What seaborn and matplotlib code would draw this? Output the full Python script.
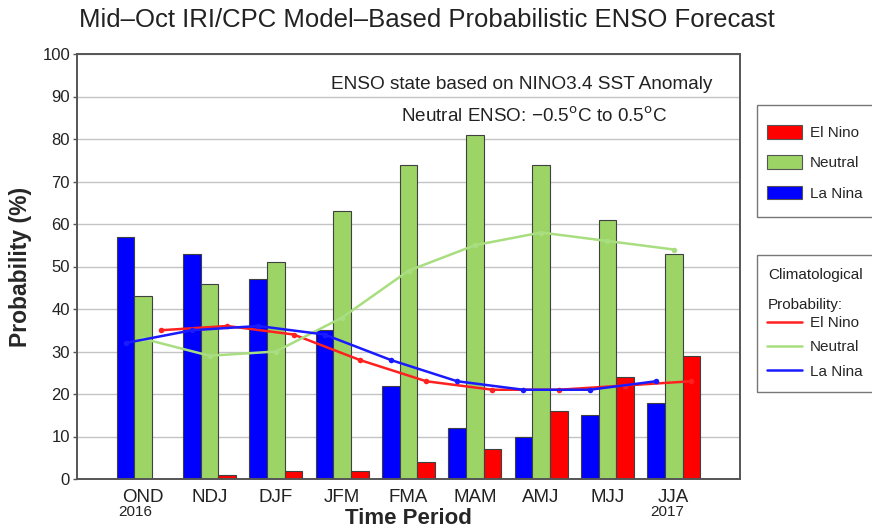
import numpy as np
import pandas as pd
import matplotlib
matplotlib.use("Agg")
import matplotlib.pyplot as plt
from matplotlib.patches import Patch, Rectangle
from matplotlib.lines import Line2D
import seaborn as sns

# season labels
periods = ["OND", "NDJ", "DJF", "JFM", "FMA", "MAM", "AMJ", "MJJ", "JJA"]

# model forecast probabilities (%)
la_nina = [57, 53, 47, 35, 22, 12, 10, 15, 18]
neutral = [43, 46, 51, 63, 74, 81, 74, 61, 53]
el_nino = [0, 1, 2, 2, 4, 7, 16, 24, 29]

# climatological probabilities (%)
clim_el_nino = [35, 36, 34, 28, 23, 21, 21, 22, 23]
clim_neutral = [33, 29, 30, 38, 49, 55, 58, 56, 54]
clim_la_nina = [32, 35, 36, 34, 28, 23, 21, 21, 23]

states = ["La Nina", "Neutral", "El Nino"]
bar_colors = {"La Nina": "#0000ff", "Neutral": "#9dd466", "El Nino": "#ff0000"}
line_colors = {"La Nina": "#1a1aff", "Neutral": "#a8de80", "El Nino": "#ff2020"}

df = pd.DataFrame({
    "period": periods * 3,
    "state": ["La Nina"] * 9 + ["Neutral"] * 9 + ["El Nino"] * 9,
    "prob": la_nina + neutral + el_nino,
})

sns.set_theme(style="white")
plt.rcParams["font.family"] = ["Liberation Sans", "DejaVu Sans"]

W, H = 872, 531
fig = plt.figure(figsize=(W / 100, H / 100), dpi=100)
ax = fig.add_axes([77 / W, 1 - 479 / H, 663 / W, 425 / H])

sns.barplot(data=df, x="period", y="prob", hue="state", hue_order=states,
            palette=bar_colors, width=0.8, edgecolor="#404040", linewidth=0.8,
            saturation=1, legend=False, ax=ax)

# climatology lines, each through its own bar position
w = 0.8 / 3
xs = np.arange(len(periods))
sns.lineplot(x=xs + w, y=clim_el_nino, color=line_colors["El Nino"], lw=1.8,
             marker="o", markersize=4, markeredgewidth=0, ax=ax)
sns.lineplot(x=xs, y=clim_neutral, color=line_colors["Neutral"], lw=1.8,
             marker="o", markersize=4, markeredgewidth=0, ax=ax)
sns.lineplot(x=xs - w, y=clim_la_nina, color=line_colors["La Nina"], lw=1.8,
             marker="o", markersize=4, markeredgewidth=0, ax=ax)

ax.set_xlim(-1, 9)
ax.set_ylim(0, 100)
ax.set_yticks(range(0, 101, 10))
ax.set_xticks(xs)
ax.set_xticklabels(periods)
ax.yaxis.grid(True, color="#c4c4c4", lw=1)
ax.set_axisbelow(True)
for s in ax.spines.values():
    s.set_color("#555555")
    s.set_linewidth(1.4)
ax.tick_params(axis="y", left=True, length=3, width=1, color="#555555",
               labelsize=12, pad=2, labelcolor="#222222")
ax.tick_params(axis="x", bottom=False, length=0, labelsize=13.5, pad=7.5,
               labelcolor="#222222")

ax.set_xlabel("Time Period", fontsize=16, fontweight="bold")
ax.set_ylabel("Probability (%)", fontsize=16.5, fontweight="bold")
ax.xaxis.set_label_coords(0.5, -0.068)
ax.yaxis.set_label_coords(-0.068, 0.5)

trans = matplotlib.transforms.blended_transform_factory(ax.transData, ax.transAxes)
ax.text(-0.12, -0.078, "2016", transform=trans, ha="center", va="center",
        fontsize=11, color="#222222")
ax.text(7.9, -0.078, "2017", transform=trans, ha="center", va="center",
        fontsize=11, color="#222222")

ax.text(5.7, 92.9, "ENSO state based on NINO3.4 SST Anomaly", ha="center",
        va="center", fontsize=13.7, color="#222222")
ax.text(5.9, 85.3, "Neutral ENSO: \u22120.5$^{\\mathrm{o}}$C to 0.5$^{\\mathrm{o}}$C",
        ha="center", va="center", fontsize=13.6, color="#222222")

fig.text(0.49, 0.962, "Mid\u2013Oct IRI/CPC Model\u2013Based Probabilistic ENSO Forecast",
         ha="center", va="center", fontsize=18.5, color="#222222")

# legend frames (they run past the right edge of the picture)
for top, bot in [(105, 217), (255, 392)]:
    fig.add_artist(Rectangle((757 / W, 1 - bot / H), 130 / W, (bot - top) / H,
                             transform=fig.transFigure, fill=False,
                             edgecolor="#777777", lw=1))

order = ["El Nino", "Neutral", "La Nina"]
h1 = [Patch(facecolor=bar_colors[k], edgecolor="#555555", lw=0.8) for k in order]
fig.legend(h1, order, loc="upper left", bbox_to_anchor=(767 / W, 1 - 125 / H),
           frameon=False, fontsize=11, handlelength=2.3, handleheight=1.0,
           labelspacing=1.0, borderpad=0, handletextpad=0.52, borderaxespad=0)

fig.text(768 / W, 1 - 275 / H, "Climatological", ha="left", va="center",
         fontsize=11, color="#222222")
fig.text(768 / W, 1 - 305 / H, "Probability:", ha="left", va="center",
         fontsize=11, color="#222222")
h2 = [Line2D([], [], color=line_colors[k], lw=1.8) for k in order]
fig.legend(h2, order, loc="upper left", bbox_to_anchor=(767 / W, 1 - 316 / H),
           frameon=False, fontsize=11, handlelength=2.3, labelspacing=0.68,
           borderpad=0, handletextpad=0.52, borderaxespad=0)

fig.savefig("out.png", dpi=100)
